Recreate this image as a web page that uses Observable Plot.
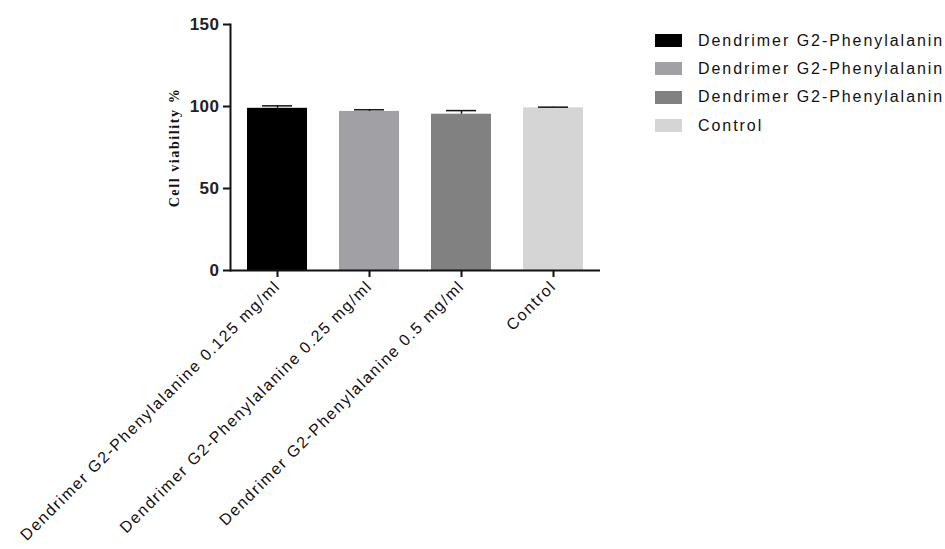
<!DOCTYPE html>
<html>
<head>
<meta charset="utf-8">
<script src="https://cdn.jsdelivr.net/npm/d3@7"></script>
<script src="https://cdn.jsdelivr.net/npm/@observablehq/plot@0.6"></script>
<style>
  html, body { margin: 0; padding: 0; background: #fff; overflow: hidden; width: 945px; height: 549px; }
  #wrap { position: relative; width: 945px; height: 549px; overflow: hidden; }
  #chart { position: absolute; left: 0; top: 0; }
  #chart g[aria-label="x-axis tick label"] text { letter-spacing: 1.6px; }
  #chart g[aria-label="y-axis tick label"] text { letter-spacing: 0.5px; }
  #chart g[aria-label="text"] text { letter-spacing: 1.6px; }
  #legend { position: absolute; left: 655px; top: 26.5px; font-family: Arial, "Liberation Sans", sans-serif; font-size: 16px; letter-spacing: 1.95px; color: #111; white-space: nowrap; }
  .row { display: flex; align-items: center; height: 28.3px; }
  .sw { width: 27px; height: 13px; margin-right: 16px; flex: none; }
</style>
</head>
<body>
<div id="wrap"><div id="chart"></div><div id="legend"></div></div>
<script>
const categories = [
  "Dendrimer G2-Phenylalanine 0.125 mg/ml",
  "Dendrimer G2-Phenylalanine 0.25 mg/ml",
  "Dendrimer G2-Phenylalanine 0.5 mg/ml",
  "Control"
];
const legendLabels = [
  "Dendrimer G2-Phenylalanin",
  "Dendrimer G2-Phenylalanin",
  "Dendrimer G2-Phenylalanin",
  "Control"
];
const means = [98.9, 97.0, 95.3, 99.2];
const errors = [1.5, 1.0, 2.2, 0.4];
const barColors = ["#000000", "#a1a1a5", "#818181", "#d5d5d5"];
const yTicks = [0, 50, 100, 150];
const yLabel = "Cell viability %";

const data = categories.map((c, i) => ({cat: c, mean: means[i], err: errors[i]}));

const plot = Plot.plot({
  width: 640,
  height: 549,
  marginLeft: 230,
  marginRight: 40,
  marginTop: 24,
  marginBottom: 279,
  style: {fontFamily: "Arial, 'Liberation Sans', sans-serif", background: "#fff", color: "#111"},
  x: {domain: categories, paddingInner: 0.348, paddingOuter: 0.18, label: null},
  y: {domain: [0, 150], label: null},
  color: {domain: categories, range: barColors},
  marks: [
    Plot.barY(data, {x: "cat", y: "mean", fill: "cat"}),
    Plot.ruleX(data, {x: "cat", y1: "mean", y2: d => d.mean + d.err, stroke: "#111", strokeWidth: 1.5}),
    Plot.tickY(data, {x: "cat", y: d => d.mean + d.err, stroke: "#111", strokeWidth: 1.5, insetLeft: 15, insetRight: 15}),
    Plot.axisY({ticks: yTicks, tickSize: 7, tickPadding: 4, fontSize: 17, fontWeight: "bold", strokeWidth: 2, stroke: "#111", fill: "#222", label: null}),
    Plot.axisX({tickSize: 7, tickPadding: 6, tickRotate: -45, fontSize: 16, strokeWidth: 2, stroke: "#111", fill: "#111", label: null}),
    Plot.frame({anchor: "left", strokeWidth: 2, stroke: "#111"}),
    Plot.ruleY([0], {strokeWidth: 2, stroke: "#111"}),
    Plot.text([yLabel], {frameAnchor: "left", dx: -56, rotate: -90, fontFamily: "'Liberation Serif', 'DejaVu Serif', serif", fontWeight: "bold", fontSize: 14, fill: "#111", textAnchor: "middle"})
  ]
});
document.getElementById("chart").appendChild(plot);

const legend = d3.select("#legend");
legendLabels.forEach((c, i) => {
  const row = legend.append("div").attr("class", "row");
  row.append("div").attr("class", "sw").style("background", barColors[i]);
  row.append("span").text(c);
});
</script>
</body>
</html>
